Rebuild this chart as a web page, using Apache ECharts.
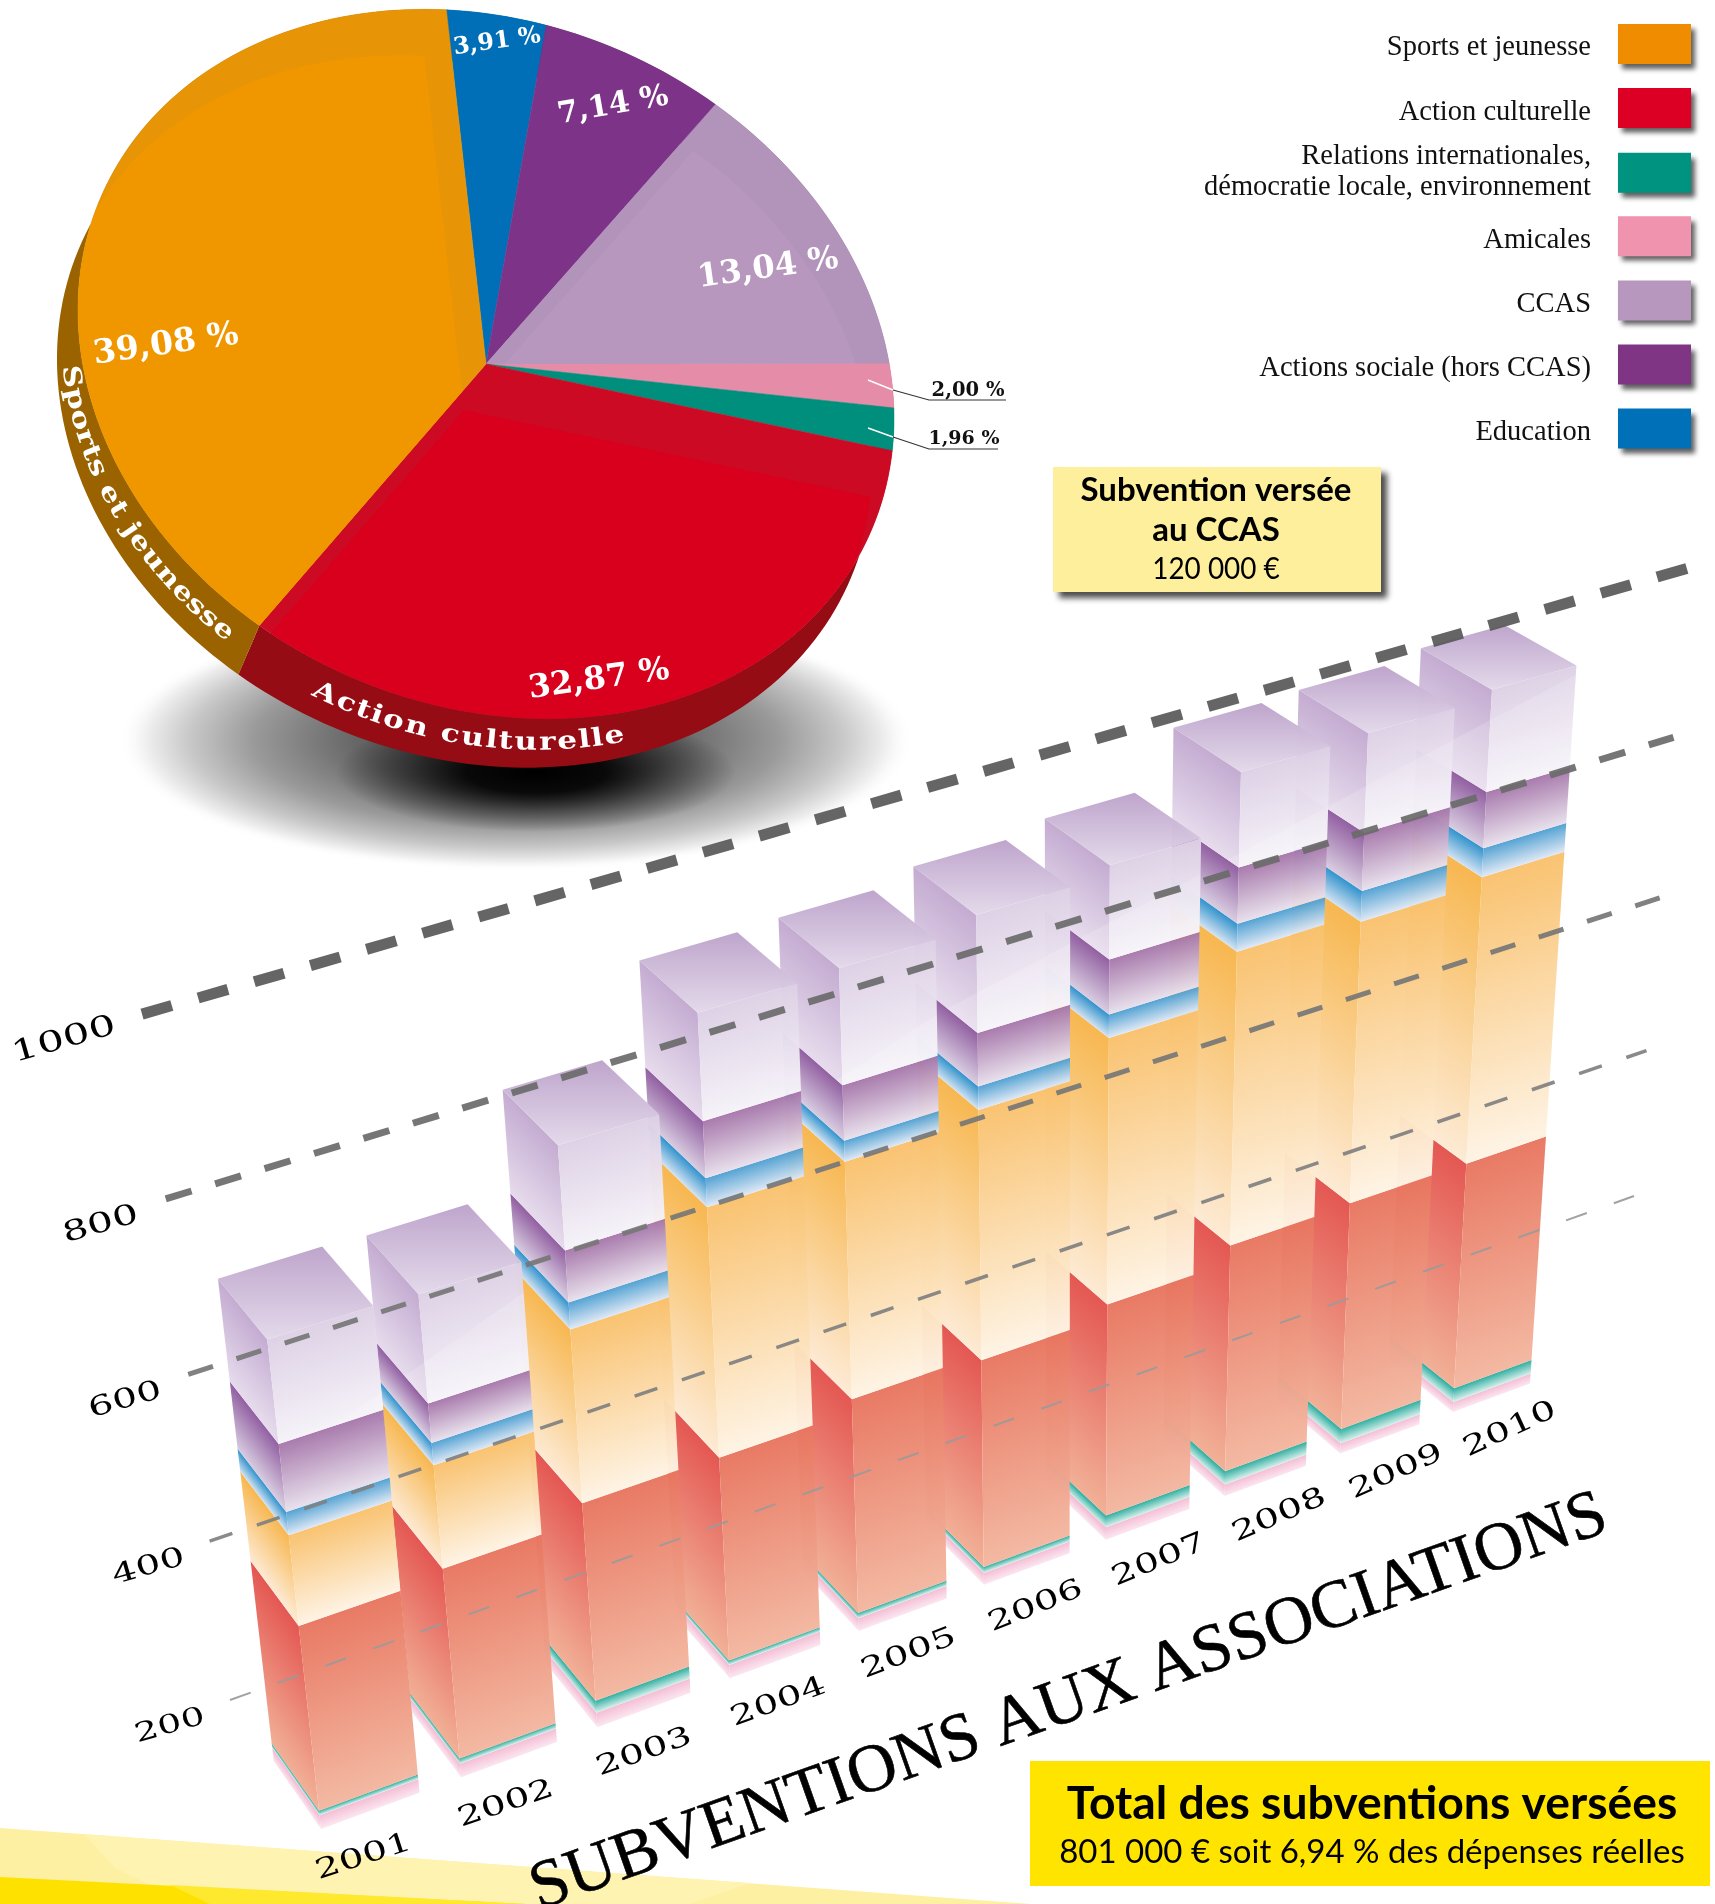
<!DOCTYPE html>
<html lang="fr"><head><meta charset="utf-8"><title>Subventions aux associations</title>
<style>html,body{margin:0;padding:0;background:#fff}#c{width:1715px;height:1904px}</style>
<script src="https://cdn.jsdelivr.net/npm/echarts@6/dist/echarts.min.js"></script></head>
<body><div id="c"></div>
<script>
// ---------- DATA ----------
const years = ['2001','2002','2003','2004','2005','2006','2007','2008','2009','2010'];
const amicales   = [18,18,19,18,17,16,17,16,14,14];
const relations  = [6,7,16,6,7,8,16,18,20,19];
const culturelle = [235,243,254,263,279,272,279,300,302,303];
const sports     = [111,127,212,305,291,309,330,364,352,361];
const education  = [28,27,32,34,25,28,28,33,37,35];
const sociale    = [81,47,61,66,65,63,65,66,69,67];
const ccas       = [121,128,121,123,134,136,109,110,116,120];
const valueTicks = [200,400,600,800,1000];

const pieNames  = ['Education','Actions sociale (hors CCAS)','CCAS','Amicales','Relations','Action culturelle','Sports et jeunesse'];
const pieShares = [3.91,7.14,13.04,2.00,1.96,32.87,39.08];

const legendNames = ['Sports et jeunesse','Action culturelle','Relations internationales,\ndémocratie locale, environnement','Amicales','CCAS','Actions sociale (hors CCAS)','Education'];
const legendColors = ['#F08C00','#DB0024','#00937F','#EF93AF','#B897BF','#7F3584','#0070B8'];

// ---------- STYLE ----------
const stackLayers = [
 {name:legendNames[3], values:amicales,   l:['#F2B6CF','#FBE6F0'], r:['#F4BCD3','#FBE6F0']},
 {name:legendNames[2], values:relations,  l:['#1FA99C','#CDEBE6'], r:['#2BAC9E','#D6EFEB']},
 {name:legendNames[1], values:culturelle, l:['#E3524D','#F1AE94'], r:['#E87660','#F3B7A0']},
 {name:legendNames[0], values:sports,     l:['#F7B54B','#FDEAD4'], r:['#F9C16D','#FEF3E4']},
 {name:legendNames[6], values:education,  l:['#2A8FCB','#D3E2F2'], r:['#4FA0D2','#DFE8F5']},
 {name:legendNames[5], values:sociale,    l:['#8E5A9E','#D8CCE0'], r:['#A677AA','#E8E0EC']},
 {name:legendNames[4], values:ccas,       l:['#C2A9D0','#E6DBEC'], r:['#DDD0E5','#F5F2F8'], t:['#BDA3CB','#E3D9EA'], glare:true}
];
const glareLeft  = [[527,1290],[241,1491],[100,1700],[800,1700]];
const glareRight = [[1577,674],[939,1013],[760,1130],[1700,1130]];
const pieStyle = [
 {base:'#006FB7',main:'#006FB7',rim:'#004a7a'},
 {base:'#7D3387',main:'#7D3387',rim:'#55225c'},
 {base:'#B293BA',main:'#B897BF',rim:'#7d6a84'},
 {base:'#E58CA9',main:'#E58CA9',rim:'#a0627a'},
 {base:'#008F7C',main:'#008F7C',rim:'#006054'},
 {base:'#CC0A24',main:'#D8001C',rim:'#960C14'},
 {base:'#E79507',main:'#F09700',rim:'#9A6300'}
];
const pieLabels = [
 {x:497,y:42,size:23.5,rot:8},{x:613,y:106,size:30,rot:10},{x:768,y:269,size:32,rot:8},
 {x:0,y:0,size:0,rot:0},{x:0,y:0,size:0,rot:0},
 {x:599,y:680,size:32,rot:8},{x:166,y:345,size:33,rot:8}
];
const barWidth = 0.70;
const SERIF='"DejaVu Serif"', BOOK='"Liberation Serif"', SANS='Lato';

// Perspective of the bar block: (position, value, depth) -> page
function cam(t,v,d){
  const w = 1 + .01455*t - 1.125e-4*v + .0225*d;
  return [(321 + 146.9*t - .1197*v - 41.06*d)/w, (1829 - 25.8*t - .9664*v - 28*d)/w];
}
// Perspective of the value wall holding the dashed grid lines
function wall(u,v){
  const s=(v-200)/200, w=1-.024*s;
  const xl=(230-25.4*s)/w, yl=(1700-195.8*s)/w, xr=(1634-27*s)/w, yr=(1196-170.6*s)/w;
  return [xl+(xr-xl)*u, yl+(yr-yl)*u];
}
function fromApi(api,i,v){const c=api.coord([i,v]);return {t:c[0]/100-.5,v:1000-c[1]};}
const grad=(c)=>new echarts.graphic.LinearGradient(0,0,0,1,[{offset:0,color:c[0]},{offset:1,color:c[1]}]);
// gradient whose colour bands run along the top edge A-B of a face
function edgeGrad(A,B,C,c){
  const ex=B[0]-A[0],ey=B[1]-A[1],n=Math.hypot(ex,ey),nx=-ey/n,ny=ex/n,dist=(C[0]-A[0])*nx+(C[1]-A[1])*ny;
  return new echarts.graphic.LinearGradient(A[0],A[1],A[0]+nx*dist,A[1]+ny*dist,[{offset:0,color:c[0]},{offset:1,color:c[1]}],true);
}

function barRender(layerIndex){
  const L=stackLayers[layerIndex];
  return function(params,api){
    const i=api.value(0), a=fromApi(api,i,api.value(1)), b=fromApi(api,i,api.value(2));
    const t=a.t, lo=a.v, hi=b.v, z=(9-i)*20+layerIndex*2;
    const P=(dt,v,d)=>cam(t+dt,v,d);
    const left=[P(0,hi,0),P(0,hi,1),P(0,lo,1),P(0,lo,0)], right=[P(0,hi,0),P(barWidth,hi,0),P(barWidth,lo,0),P(0,lo,0)];
    const kids=[
      {type:'polygon',z2:z,shape:{points:left},style:{fill:edgeGrad(left[0],left[1],left[3],L.l),opacity:.97}},
      {type:'polygon',z2:z,shape:{points:right},style:{fill:edgeGrad(right[0],right[1],right[3],L.r),opacity:.97}}
    ];
    if(L.t) kids.push({type:'polygon',z2:z+1,shape:{points:[P(0,hi,0),P(barWidth,hi,0),P(barWidth,hi,1),P(0,hi,1)]},style:{fill:grad(L.t),opacity:.98}});
    if(L.glare){
      const region=i<=2?glareLeft:glareRight;
      [left,right].forEach(f=>kids.push({type:'polygon',z2:z+1,shape:{points:f},clipPath:{type:'polygon',shape:{points:region}},style:{fill:'rgba(255,255,255,.16)'}}));
    }
    return {type:'group',children:kids};
  };
}
function stackData(k){
  return years.map((y,i)=>{let lo=0;for(let j=0;j<k;j++)lo+=stackLayers[j].values[i];return [i,lo,lo+stackLayers[k].values[i]];});
}
const barSeries=stackLayers.map((L,k)=>({type:'custom',name:L.name,coordinateSystem:'cartesian2d',silent:true,
  itemStyle:{color:L.r[0]},renderItem:barRender(k),data:stackData(k),encode:{x:0,y:2}}));

// Grid lines
const gridStyle=[{w:2,c:'#9a9a9a',d:[22,28.7]},{w:3.5,c:'#808080',d:[24,25.9]},{w:5,c:'#767676',d:[26,24.7]},{w:7,c:'#6a6a6a',d:[27,24.7]},{w:11,c:'#585858',d:[31,27.4]}];
const gridLabelStyle=[{s:26,dx:-60},{s:27,dx:-61},{s:27,dx:-63},{s:28,dx:-65},{s:29,dx:-78}];
const gridSeries={type:'custom',name:'grille',coordinateSystem:'cartesian2d',silent:true,z:5,data:valueTicks.map((v,i)=>[i,v]),encode:{x:0,y:1},
  renderItem(params,api){
    const k=api.value(0), v=1000-api.coord([0,api.value(1)])[1], a=wall(0,v), b=wall(1,v), st=gridStyle[k], ls=gridLabelStyle[k];
    return {type:'group',children:[
      {type:'line',z2:2000,shape:{x1:a[0],y1:a[1],x2:b[0],y2:b[1]},style:{stroke:st.c,lineWidth:st.w,lineDash:st.d,opacity:.92}},
      {type:'text',z2:2000,x:a[0]+ls.dx,y:a[1]+26,rotation:16*Math.PI/180,scaleX:1.45,
        style:{text:String(valueTicks[k]),fontFamily:SERIF,fontSize:ls.s,fill:'#000',align:'center',verticalAlign:'middle'}}
    ]};
  }};
const yearSeries={type:'custom',name:'annees',coordinateSystem:'cartesian2d',silent:true,z:5,data:years.map((y,i)=>[i,0]),encode:{x:0,y:1},
  renderItem(params,api){
    const i=api.value(0), a=fromApi(api,i,0), p=cam(a.t+.27+a.t*.03,a.v-56,0);
    return {type:'text',z2:2000,x:p[0],y:p[1],rotation:(18+i*.75)*Math.PI/180,scaleX:1.45,
      style:{text:years[i],fontFamily:SERIF,fontSize:27,fill:'#000',align:'center',verticalAlign:'middle'}};
  }};

// Pie drawn on a tilted disc
const PC=[486,364], PA=407, PB=29, PD=353.5, RIM=[-21,49], PIE_START=-1.5;
const onDisc=(deg,dx,dy,k)=>{const th=(deg-90)*Math.PI/180,c=Math.cos(th),s=Math.sin(th),f=k==null?1:k;
  return [PC[0]+(dx||0)+f*(PA*c+PB*s),PC[1]+(dy||0)+f*(PB*c+PD*s)];};
const arc=(a0,a1,dx,dy)=>{const n=Math.max(4,Math.ceil((a1-a0)/1.5)),o=[];for(let j=0;j<=n;j++)o.push(onDisc(a0+(a1-a0)*j/n,dx,dy));return o;};
const pct=v=>v.toFixed(2).replace('.',',')+' %';
const total=pieShares.reduce((a,b)=>a+b,0);
const pieSeries={type:'custom',name:'camembert',coordinateSystem:'none',silent:true,z:3,data:pieShares.map((v,i)=>[v,i]),
  renderItem(params,api){
    const v=api.value(0), i=api.value(1), st=pieStyle[i];
    let acc=0;for(let j=0;j<i;j++)acc+=pieShares[j];
    const a0=PIE_START+acc/total*360, a1=a0+v/total*360;
    const rimPts=arc(a0,a1).concat(arc(a0,a1,RIM[0],RIM[1]).reverse());
    const top=[PC].concat(arc(a0,a1));
    const moved=top.map(p=>[p[0]-22,p[1]+46]);
    const kids=[
      {type:'polygon',z2:i,shape:{points:rimPts},style:{fill:st.rim}},
      {type:'polygon',z2:20+i,shape:{points:top},style:{fill:st.base,stroke:st.base,lineWidth:.5}}
    ];
    if(st.base!==st.main) kids.push({type:'polygon',z2:30+i,shape:{points:moved},clipPath:{type:'polygon',shape:{points:top}},style:{fill:st.main}});
    const lab=pieLabels[i];
    if(lab.size) kids.push({type:'text',z2:60,x:lab.x,y:lab.y,rotation:lab.rot*Math.PI/180,
      style:{text:pct(v),fontFamily:SERIF,fontWeight:'bold',fontSize:lab.size,fill:'#fff',align:'center',verticalAlign:'middle'}});
    return {type:'group',children:kids};
  }};

// Names written along the rim of the disc
const measure=document.createElement('canvas').getContext('2d');
function rimText(str,thStart,thEnd,size){
  const font='bold '+size+'px "DejaVu Serif"';measure.font=font;
  const midX=PC[0]+RIM[0]*.5, midY=PC[1]+RIM[1]*.5;
  const P=th=>{const r=th*Math.PI/180,c=Math.cos(r),s=Math.sin(r);return [midX+PA*c+PB*s,midY+PB*c+PD*s];};
  let len=0,prev=P(thStart);const N=200;
  for(let j=1;j<=N;j++){const q=P(thStart+(thEnd-thStart)*j/N);len+=Math.hypot(q[0]-prev[0],q[1]-prev[1]);prev=q;}
  const adv=measure.measureText(str).width, f=len/adv;
  const out=[];let th=thStart;
  const step=(thEnd-thStart)/2000;
  const walk=(ds)=>{let acc=0;while(acc<ds){const a=P(th),b=P(th+step);acc+=Math.hypot(b[0]-a[0],b[1]-a[1]);th+=step;}};
  for(const ch of str){
    const w=measure.measureText(ch).width*f;
    walk(w/2);const c=P(th),n=P(th+step);
    out.push({type:'text',z2:70,x:c[0],y:c[1],rotation:-Math.atan2(n[1]-c[1],n[0]-c[0]),scaleX:Math.min(f,1.25),
      style:{text:ch,font:font,fill:'#fff',align:'center',verticalAlign:'middle'}});
    walk(w/2);
  }
  return out;
}
const rimSeries={type:'custom',name:'tranche',coordinateSystem:'none',silent:true,z:4,data:[[0]],
  renderItem(){return {type:'group',children:rimText('Sports et jeunesse',179,131.3,25).concat(rimText('Action culturelle',117.6,73,25))};}};

const legends=legendNames.map((n,i)=>({
  data:[{name:n,itemStyle:{color:legendColors[i]}}],orient:'vertical',align:'right',selectedMode:false,icon:'rect',
  right:24,top:(i===2?134.5:24+64.1*i),padding:0,itemWidth:73,itemHeight:40,
  itemStyle:{shadowColor:'rgba(40,40,40,.75)',shadowBlur:5,shadowOffsetX:4,shadowOffsetY:5},
  formatter:s=>s.split('\n').map((l,j)=>'{'+(j?'b':'a')+'|'+l+'}').join('\n'),
  textStyle:{rich:{
    a:{fontFamily:BOOK,fontSize:28.5,color:'#111',lineHeight:22,padding:[8,22,0,0]},
    b:{fontFamily:BOOK,fontSize:28.5,color:'#111',lineHeight:39.5,padding:[8,22,0,0]}
  }}
}));

const radial=(stops)=>new echarts.graphic.RadialGradient(.5,.5,.5,stops);
const option={
  animation:false,backgroundColor:'#fff',tooltip:{show:false},
  grid:{left:0,top:0,width:1000,height:1000,show:false},
  xAxis:{type:'category',data:years,show:false},
  yAxis:{type:'value',min:0,max:1000,interval:200,show:false},
  legend:legends,
  graphic:{elements:[
    {type:'polygon',z:0,silent:true,shape:{points:[[0,1828],[1031,1904],[0,1904]]},style:{fill:'#FDF0A2'}},
    {type:'polygon',z:0,silent:true,shape:{points:[[84,1834],[115,1868],[150,1885],[210,1904],[690,1904],[750,1883]]},style:{fill:'#FEF3B0'}},
    {type:'polygon',z:0,silent:true,shape:{points:[[0,1877],[526,1904],[0,1904]]},style:{fill:'#FFE100'}},
    {type:'polygon',z:0,silent:true,shape:{points:[[170,1885],[526,1904],[210,1904]]},style:{fill:'#FFE92E'}},
    {type:'circle',z:1,silent:true,x:516,y:740,scaleY:.33,shape:{r:398},style:{fill:radial([{offset:0,color:'#333'},{offset:.4,color:'#666'},{offset:.66,color:'#9a9a9a'},{offset:.82,color:'#c8c8c8'},{offset:.93,color:'#efefef'},{offset:1,color:'rgba(255,255,255,0)'}])}},
    {type:'circle',z:1,silent:true,x:536,y:772,scaleY:.3,shape:{r:200},style:{fill:radial([{offset:0,color:'#000'},{offset:.35,color:'rgba(0,0,0,.9)'},{offset:.65,color:'rgba(0,0,0,.45)'},{offset:1,color:'rgba(0,0,0,0)'}])}},
    // leaders and small percentages
    {type:'polyline',z:6,silent:true,shape:{points:[[868,380],[893,390]]},style:{stroke:'#fff',lineWidth:1.5}},
    {type:'polyline',z:6,silent:true,shape:{points:[[893,390],[929,400],[1006,400]]},style:{stroke:'#333',lineWidth:1.2}},
    {type:'polyline',z:6,silent:true,shape:{points:[[868,428],[893,437]]},style:{stroke:'#fff',lineWidth:1.5}},
    {type:'polyline',z:6,silent:true,shape:{points:[[893,437],[929,449],[998,449]]},style:{stroke:'#333',lineWidth:1.2}},
    {type:'text',z:6,silent:true,x:968,y:391,style:{text:pct(pieShares[3]),fontFamily:SERIF,fontWeight:'bold',fontSize:19.5,fill:'#111',align:'center',verticalAlign:'middle'}},
    {type:'text',z:6,silent:true,x:964,y:439,style:{text:pct(pieShares[4]),fontFamily:SERIF,fontWeight:'bold',fontSize:19,fill:'#111',align:'center',verticalAlign:'middle'}},
    // CCAS box
    {type:'rect',z:6,silent:true,shape:{x:1053,y:467,width:328,height:125},style:{fill:'#FEEF9C',shadowColor:'rgba(30,30,30,.8)',shadowBlur:6,shadowOffsetX:6,shadowOffsetY:6}},
    {type:'text',z:7,silent:true,x:1216,y:490,style:{text:'Subvention versée',fontFamily:SANS,fontWeight:'bold',fontSize:33,fill:'#000',align:'center',verticalAlign:'middle'}},
    {type:'text',z:7,silent:true,x:1216,y:530,style:{text:'au CCAS',fontFamily:SANS,fontWeight:'bold',fontSize:33,fill:'#000',align:'center',verticalAlign:'middle'}},
    {type:'text',z:7,silent:true,x:1216,y:569,scaleX:.9,style:{text:'120 000 €',fontFamily:SANS,fontSize:31,fill:'#000',align:'center',verticalAlign:'middle'}},
    // title
    {type:'text',z:7,silent:true,x:1069,y:1703,rotation:19.5*Math.PI/180,style:{text:'SUBVENTIONS AUX ASSOCIATIONS',fontFamily:BOOK,fontSize:68,fill:'#000',stroke:'#000',lineWidth:.6,align:'center',verticalAlign:'middle'}},
    // total box
    {type:'rect',z:6,silent:true,shape:{x:1030,y:1761,width:680,height:125},style:{fill:'#FFE400'}},
    {type:'text',z:7,silent:true,x:1372,y:1804,style:{text:'Total des subventions versées',fontFamily:SANS,fontWeight:'bold',fontSize:46.3,fill:'#000',align:'center',verticalAlign:'middle'}},
    {type:'text',z:7,silent:true,x:1372,y:1852,style:{text:'801 000 € soit 6,94 % des dépenses réelles',fontFamily:SANS,fontSize:33,fill:'#000',align:'center',verticalAlign:'middle'}}
  ]},
  series:[pieSeries,rimSeries,...barSeries,gridSeries,yearSeries]
};
const chart=echarts.init(document.getElementById('c'),null,{renderer:'canvas',width:1715,height:1904});
chart.setOption(option);
</script></body></html>
